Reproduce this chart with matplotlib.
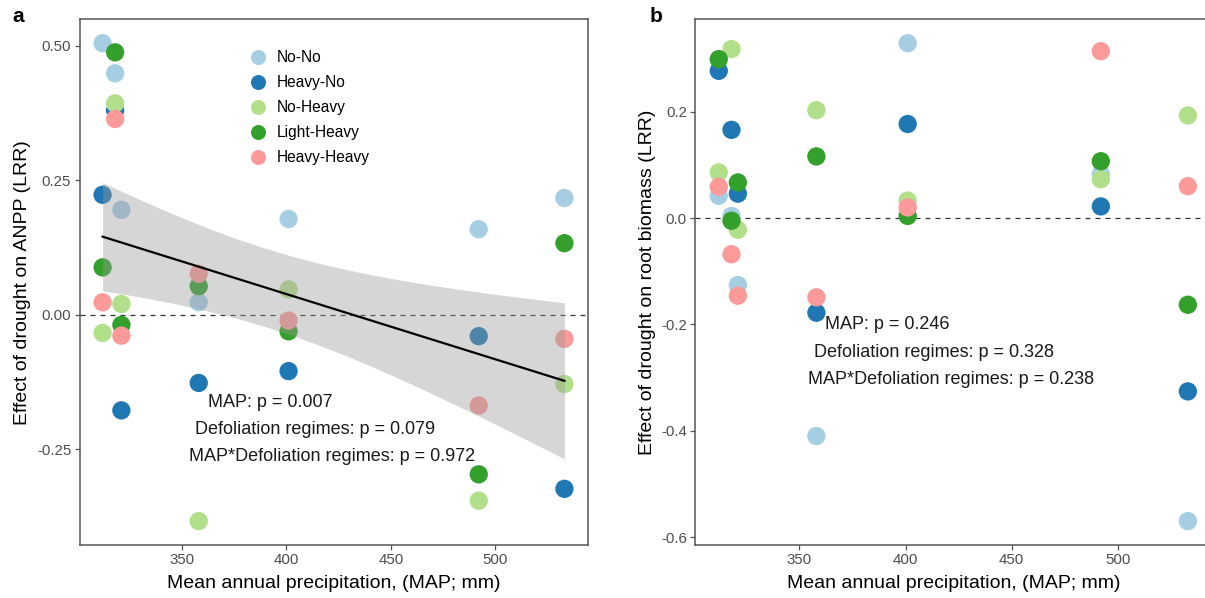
import numpy as np
import matplotlib.pyplot as plt
from matplotlib.lines import Line2D

plt.rcParams['font.family'] = ['Liberation Sans', 'DejaVu Sans']

# sites (mean annual precipitation, mm)
map_mm = [312, 318, 321, 358, 401, 492, 533]

groups = ["No-No", "Heavy-No", "No-Heavy", "Light-Heavy", "Heavy-Heavy"]
colors = ["#A6CEE3", "#1F78B4", "#B2DF8A", "#33A02C", "#FB9A99"]

# drought effect on ANPP (LRR), one value per site for each regime
anpp = {
    "No-No":       [0.505, 0.449, 0.195, 0.023, 0.178, 0.159, 0.217],
    "Heavy-No":    [0.223, 0.380, -0.178, -0.127, -0.105, -0.040, -0.324],
    "No-Heavy":    [-0.034, 0.393, 0.020, -0.384, 0.047, -0.346, -0.129],
    "Light-Heavy": [0.088, 0.488, -0.019, 0.053, -0.031, -0.297, 0.133],
    "Heavy-Heavy": [0.023, 0.364, -0.039, 0.076, -0.011, -0.169, -0.045],
}

# drought effect on root biomass (LRR)
root = {
    "No-No":       [0.042, 0.004, -0.126, -0.410, 0.329, 0.083, -0.570],
    "Heavy-No":    [0.277, 0.166, 0.046, -0.178, 0.177, 0.022, -0.326],
    "No-Heavy":    [0.086, 0.318, -0.022, 0.203, 0.033, 0.073, 0.193],
    "Light-Heavy": [0.299, -0.005, 0.067, 0.116, 0.004, 0.107, -0.163],
    "Heavy-Heavy": [0.059, -0.068, -0.146, -0.149, 0.020, 0.314, 0.060],
}

stats_a = ["MAP: p = 0.007", "Defoliation regimes: p = 0.079", "MAP*Defoliation regimes: p = 0.972"]
stats_b = ["MAP: p = 0.246", "Defoliation regimes: p = 0.328", "MAP*Defoliation regimes: p = 0.238"]

tick_col = "#4d4d4d"
spine_col = "#555555"


def expand(lo, hi, f=0.05):
    d = (hi - lo) * f
    return lo - d, hi + d


def panel(ax, data, ylabel, ticks, ticklabels):
    for g, c in zip(groups, colors):
        ax.scatter(map_mm, data[g], s=174, color=c, edgecolors='none', zorder=2)
    ax.axhline(0, color="#333333", lw=0.9, ls=(0, (4, 4)), zorder=1)
    allv = np.concatenate([data[g] for g in groups])
    ax.set_xlim(*expand(min(map_mm), max(map_mm)))
    ax.set_ylim(*expand(allv.min(), allv.max()))
    ax.set_xticks([350, 400, 450, 500])
    ax.set_yticks(ticks)
    ax.set_yticklabels(ticklabels)
    ax.tick_params(colors=spine_col, labelcolor=tick_col, labelsize=10.8,
                   length=3.5, width=0.9, pad=2.5)
    for s in ax.spines.values():
        s.set_color(spine_col)
        s.set_linewidth(1.1)
    ax.set_xlabel("Mean annual precipitation, (MAP; mm)", fontsize=14, labelpad=5.5)
    ax.set_ylabel(ylabel, fontsize=14, labelpad=4)


fig = plt.figure(figsize=(12.05, 5.98), dpi=100)
ax1 = fig.add_axes([79.5 / 1205, 53 / 598, 508 / 1205, 525.7 / 598])
ax2 = fig.add_axes([695.3 / 1205, 53 / 598, 516 / 1205, 525.7 / 598])

panel(ax1, anpp, "Effect of drought on ANPP (LRR)",
      [-0.25, 0, 0.25, 0.5], ["-0.25", "0.00", "0.25", "0.50"])
panel(ax2, root, "Effect of drought on root biomass (LRR)",
      [-0.6, -0.4, -0.2, 0, 0.2], ["-0.6", "-0.4", "-0.2", "0.0", "0.2"])

# linear fit with 95% band for ANPP
x = np.repeat([map_mm], len(groups), axis=0).ravel().astype(float)
y = np.concatenate([anpp[g] for g in groups])
b1, b0 = np.polyfit(x, y, 1)
n = len(x)
resid = y - (b0 + b1 * x)
se = np.sqrt(np.sum(resid ** 2) / (n - 2))
xs = np.linspace(min(map_mm), max(map_mm), 100)
yf = b0 + b1 * xs
band = 2.035 * se * np.sqrt(1 / n + (xs - x.mean()) ** 2 / np.sum((x - x.mean()) ** 2))
ax1.fill_between(xs, yf - band, yf + band, color="#999999", alpha=0.4, lw=0, zorder=3)
ax1.plot(xs, yf, color="black", lw=1.6, zorder=4)

handles = [Line2D([], [], marker='o', ls='none', markersize=10.8, color=c, markeredgewidth=0)
           for c in colors]
ax1.legend(handles, groups, loc='upper left', bbox_to_anchor=(0.337, 0.941), frameon=False,
           fontsize=11.2, handlelength=1.0, handletextpad=0.7, labelspacing=0.64,
           borderpad=0, borderaxespad=0)

for ax, lines, pos in [(ax1, stats_a, [(362.4, -0.164), (356.1, -0.213), (353.4, -0.263)]),
                       (ax2, stats_b, [(362.1, -0.201), (356.9, -0.252), (354.0, -0.303)])]:
    for t, (tx, ty) in zip(lines, pos):
        ax.text(tx, ty, t, fontsize=13, ha='left', va='center', color="#1a1a1a", zorder=5)

fig.text(12 / 1205, 1 - 16 / 598, "a", fontsize=15, fontweight='bold', va='center')
fig.text(650 / 1205, 1 - 16 / 598, "b", fontsize=15, fontweight='bold', va='center')

fig.savefig("out.png", dpi=100)
